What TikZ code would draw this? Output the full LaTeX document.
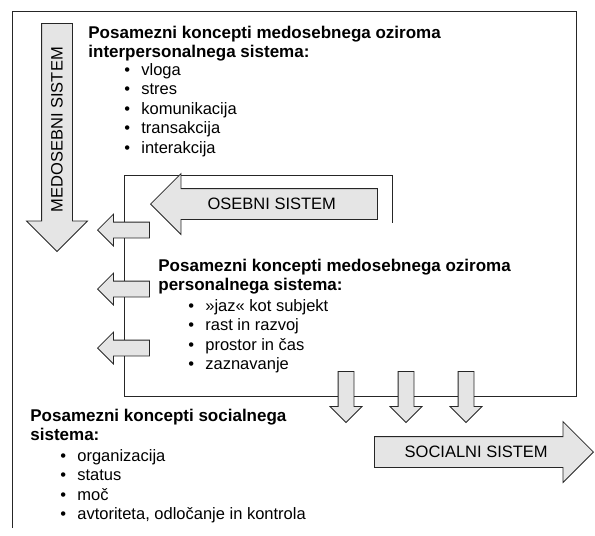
\documentclass[tikz,border=0pt]{standalone}
\usepackage{fontspec}
\setmainfont{Liberation Sans}
\usetikzlibrary{shapes.arrows, positioning}

\newcommand{\itm}[1]{\makebox[17pt][l]{\textbullet}#1}

\begin{document}
\begin{tikzpicture}[
    x = 1pt, y = -1pt,
    line width = 0.8pt,
    sysarrow/.style = {single arrow, draw = black!85, fill = black!10,
        single arrow tip angle = 90, single arrow head extend = 15pt,
        inner xsep = 0pt, inner ysep = 9.5pt, text height = 11pt, text depth = 0pt,
        font = \fontsize{16.5}{16.5}\selectfont},
    flowarrow/.style = {single arrow, draw = black!85, fill = black!10,
        single arrow tip angle = 90, single arrow head extend = 8pt,
        inner xsep = 0pt, inner ysep = 7.5pt, text height = 0pt, text depth = 0pt,
        minimum height = 51pt},
    downarrow/.style = {flowarrow, shape border rotate = 270,
        inner xsep = 7.5pt, inner ysep = 0pt},
    heading/.style = {anchor = north west, align = left, inner sep = 0pt,
        font = \bfseries\fontsize{17}{18.5}\selectfont},
    items/.style = {anchor = north west, align = left, inner sep = 0pt,
        font = \fontsize{16.5}{19.5}\selectfont}
]
\useasboundingbox (0,0) rectangle (595,536);

% frame of the systems
\draw[black!85] (12,528) -- (12,11) -- (576,11) -- (576,396) -- (124,396)
    -- (124,175) -- (392,175) -- (392,223);

% big system arrows
\node[sysarrow, rotate = 90, shape border rotate = 180, minimum height = 228pt,
      anchor = tip] (medosebni) at (57,252) {MEDOSEBNI SISTEM};
\node[sysarrow, shape border rotate = 180, minimum height = 227pt,
      anchor = tip] (osebni) at (150,204) {OSEBNI SISTEM};
\node[sysarrow, minimum height = 219pt,
      anchor = tip] (socialni) at (594,452) {SOCIALNI SISTEM};

% small arrows to the left
\foreach \y [count = \i] in {230, 289, 348}
    \node[flowarrow, shape border rotate = 180, minimum height = 52pt,
          anchor = tip] (left\i) at (97,\y) {};

% small arrows down
\foreach \x [count = \i] in {346, 406, 466}
    \node[downarrow, anchor = tip] (down\i) at (\x,423) {};

% interpersonal concepts
\node[heading] (inter) at (88,26)
    {Posamezni koncepti medosebnega oziroma\\interpersonalnega sistema:};
\node[items] (interlist) at (124,63)
    {\itm{vloga}\\\itm{stres}\\\itm{komunikacija}\\\itm{transakcija}\\\itm{interakcija}};

% personal concepts
\node[heading] (pers) at (158,259)
    {Posamezni koncepti medosebnega oziroma\\personalnega sistema:};
\node[items] (perslist) at (188,299)
    {\itm{»jaz« kot subjekt}\\\itm{rast in razvoj}\\\itm{prostor in čas}\\\itm{zaznavanje}};

% social concepts
\node[heading] (soc) at (30,409)
    {Posamezni koncepti socialnega\\sistema:};
\node[items] (soclist) at (60,449)
    {\itm{organizacija}\\\itm{status}\\\itm{moč}\\\itm{avtoriteta, odločanje in kontrola}};

\end{tikzpicture}
\end{document}
